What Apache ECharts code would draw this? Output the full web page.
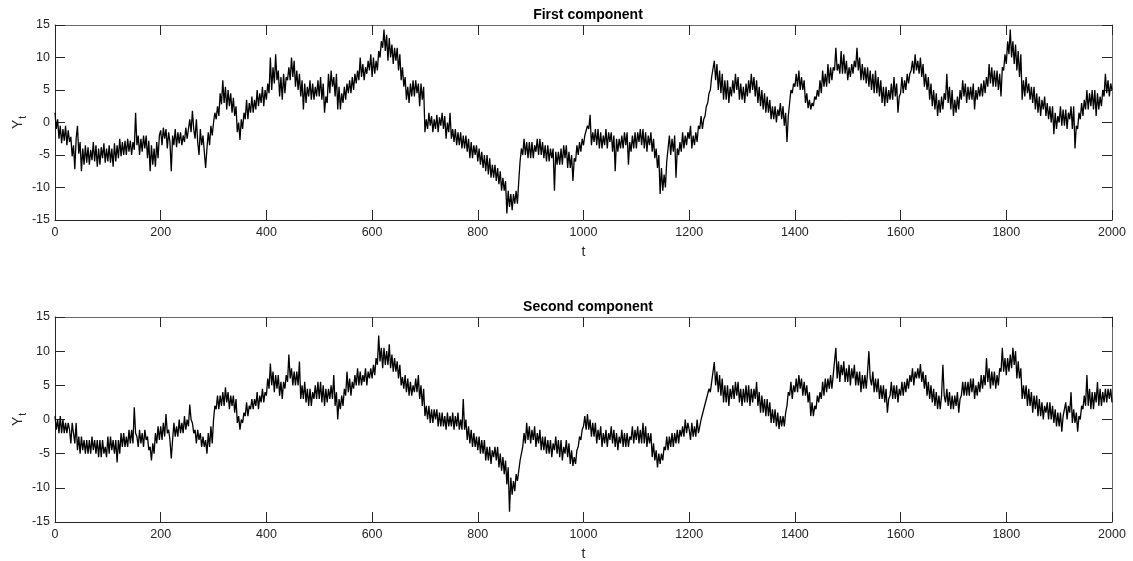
<!DOCTYPE html>
<html>
	<head>
		<meta charset="utf-8" />
		<title>First / Second component</title>
		<style type="text/css">
			html, body {margin:0;padding:0;background:#fff;}
			#chart {width:1133px;height:561px;}
		</style>
	</head>
	<body>
		<div id="chart"></div>
		<script src="https://cdn.jsdelivr.net/npm/echarts@6/dist/echarts.min.js"></script>
		<script type="text/javascript">
			// values every 2.5 steps of t
			const tStep = 2.5;
			const xTicks = [0, 200, 400, 600, 800, 1000, 1200, 1400, 1600, 1800, 2000];
			const yTicks = [-15, -10, -5, 0, 5, 10, 15];
			const titles = ['First component', 'Second component'];

			// first component, two rows = 100 steps of t
			const firstComp = [
				1.5, -1.0, 0.5, -2.5, -0.5, -3.2, -1.0, -2.8, -0.5, -3.5, -1.2, -3.0, -2.2, -5.2, -3.5, -7.2, -2.5, -0.5, -4.8, -3.0,
				-7.5, -4.0, -6.5, -3.5, -6.2, -3.8, -6.5, -4.2, -5.8, -3.0, -6.0, -3.5, -6.8, -4.0, -6.5, -3.8, -5.5, -3.2, -6.2, -4.0,
				-6.0, -3.5, -6.2, -4.0, -6.8, -3.2, -6.0, -3.5, -5.5, -2.5, -5.2, -3.0, -5.0, -2.8, -5.0, -2.5, -4.5, -2.8, -5.0, -3.0,
				-4.2, 1.5, -3.5, -2.0, -5.0, -2.5, -4.5, -2.0, -4.0, -2.0, -5.5, -2.8, -7.5, -3.5, -6.5, -4.0, -6.8, -3.0, -5.5, -2.0,
				-1.2, -3.5, -0.8, -2.5, -1.0, -4.0, -1.5, -3.0, -7.5, -2.0, -3.5, -1.0, -3.8, -1.5, -3.2, -1.5, -3.5, -2.0, -3.0, -0.8,
				-2.5, -1.0, 0.5, -1.5, 1.8, -1.0, -2.5, 0.5, -3.0, -5.0, -1.0, -3.5, -2.0, -4.5, -7.0, -4.0, -1.5, -3.5, -0.5, -2.0,
				0.0, 1.5, 0.5, 2.5, 1.0, 4.5, 2.8, 6.5, 3.0, 5.5, 2.0, 5.0, 2.5, 4.5, 1.5, 3.8, 1.0, 2.5, -1.5, 0.0,
				-2.7, 0.5, -1.0, 1.5, 0.5, 3.5, 0.5, 3.0, 1.5, 4.0, 1.5, 3.5, 2.0, 5.0, 2.5, 4.5, 3.0, 5.5, 2.5, 5.0,
				3.5, 6.0, 4.5, 10.0, 5.0, 8.5, 6.0, 10.5, 6.5, 8.0, 4.0, 7.0, 3.5, 7.5, 4.5, 7.0, 6.5, 8.5, 6.5, 10.0,
				7.0, 9.5, 5.5, 8.0, 5.0, 7.5, 4.0, 6.5, 2.0, 6.0, 3.0, 5.5, 4.0, 6.5, 3.5, 6.0, 3.5, 5.5, 4.0, 6.5,
				4.0, 7.0, 3.5, 6.0, 1.5, 4.0, 3.0, 7.5, 4.5, 8.0, 5.5, 7.0, 4.0, 7.5, 2.0, 5.5, 2.0, 4.5, 3.0, 5.5,
				3.5, 6.0, 4.5, 6.5, 4.5, 7.0, 5.0, 7.5, 6.0, 8.0, 6.5, 10.0, 7.0, 9.0, 6.5, 8.5, 7.5, 9.5, 8.0, 10.5,
				7.0, 10.0, 7.5, 9.5, 8.0, 11.0, 10.0, 12.5, 11.5, 14.3, 11.0, 13.5, 9.5, 13.0, 10.0, 12.0, 9.0, 11.5, 9.5, 11.5,
				8.0, 10.5, 6.5, 8.5, 5.5, 7.0, 3.5, 5.5, 3.0, 6.0, 4.0, 6.5, 4.0, 6.5, 4.5, 6.0, 2.5, 6.0, 3.5, 5.5,
				-1.5, 0.5, -1.0, 1.5, -0.5, 1.0, -1.5, 0.5, -1.0, 1.2, -1.5, 0.8, -0.5, 1.5, -1.0, 1.0, -2.5, 0.0, -1.5, 1.5,
				-2.5, -1.0, -3.0, -1.0, -3.5, -1.5, -3.5, -1.5, -4.0, -2.0, -4.0, -2.0, -4.5, -2.5, -5.5, -3.0, -5.5, -3.5, -5.0, -3.5,
				-6.0, -4.0, -6.5, -4.5, -7.0, -5.0, -7.5, -5.0, -8.0, -5.5, -8.5, -6.5, -8.5, -6.5, -9.0, -7.0, -9.5, -7.5, -10.5, -8.5,
				-10.5, -9.0, -14.0, -10.5, -13.0, -11.0, -13.5, -11.0, -12.5, -10.5, -12.5, -9.0, -6.0, -4.0, -5.0, -2.5, -5.0, -3.0, -5.5, -3.0,
				-5.5, -3.0, -5.5, -3.5, -4.5, -2.5, -5.0, -2.5, -5.0, -3.0, -5.5, -3.5, -6.0, -3.5, -6.0, -4.0, -5.5, -4.0, -10.5, -4.5,
				-6.5, -4.5, -6.5, -4.0, -6.5, -3.5, -5.5, -3.5, -7.0, -4.5, -7.0, -5.0, -9.0, -5.5, -6.0, -3.5, -5.0, -3.0, -4.5, -2.5,
				-3.5, -2.0, -2.0, -0.5, -1.0, 1.2, -3.5, -1.5, -3.0, -1.0, -3.5, -1.0, -4.0, -1.5, -4.0, -2.0, -3.5, -1.0, -4.0, -1.5,
				-3.0, -1.5, -4.5, -2.0, -7.5, -2.5, -4.5, -2.5, -4.0, -2.0, -4.0, -1.5, -3.5, -1.5, -6.5, -3.0, -4.5, -2.0, -4.0, -1.5,
				-4.0, -1.5, -3.0, -1.0, -3.5, -1.0, -4.0, -1.5, -4.5, -2.0, -3.5, -1.5, -4.5, -2.5, -5.5, -4.0, -7.0, -5.0, -11.0, -7.0,
				-10.5, -8.0, -10.0, -6.0, -4.0, -2.0, -5.0, -2.5, -4.5, -2.0, -8.5, -4.0, -5.0, -3.0, -4.5, -1.5, -4.0, -2.0, -3.5, -1.5,
				-2.5, -0.5, -4.0, -2.0, -3.5, -1.5, -3.0, -0.5, -1.0, 1.0, -1.0, 0.5, 1.0, 2.5, 3.0, 4.5, 5.0, 7.0, 7.0, 9.5,
				6.5, 9.0, 5.0, 8.0, 4.5, 7.5, 3.5, 6.5, 3.5, 6.5, 3.0, 5.5, 4.0, 6.5, 4.5, 7.5, 5.0, 7.0, 3.5, 6.0,
				3.5, 5.5, 3.0, 6.0, 4.0, 6.5, 4.5, 7.5, 5.0, 7.0, 4.0, 6.5, 3.0, 5.5, 2.5, 5.0, 2.0, 4.5, 1.5, 4.0,
				1.5, 3.5, 0.5, 2.5, 0.5, 2.5, 0.0, 2.0, 1.0, 3.0, 0.5, 2.5, -0.5, 1.5, -3.0, 1.0, 3.0, 5.0, 4.5, 6.0,
				5.5, 7.5, 5.5, 8.0, 5.0, 7.0, 5.0, 6.5, 3.0, 4.5, 2.2, 3.5, 2.0, 3.0, 2.5, 4.0, 3.5, 5.0, 4.0, 6.5,
				4.5, 8.0, 5.5, 7.5, 5.5, 9.0, 6.0, 8.5, 6.5, 8.5, 8.0, 11.5, 8.0, 9.0, 7.5, 11.0, 7.5, 10.5, 7.5, 9.5,
				6.5, 8.5, 7.0, 9.0, 7.5, 9.5, 8.5, 11.5, 8.0, 10.0, 6.5, 9.0, 6.5, 8.5, 6.0, 8.5, 5.5, 8.0, 5.0, 7.5,
				4.5, 8.0, 4.5, 7.0, 4.0, 6.5, 3.0, 5.5, 2.5, 5.5, 3.0, 5.0, 3.5, 6.0, 3.5, 7.0, 4.0, 6.0, 1.5, 4.0,
				4.5, 7.0, 4.5, 6.5, 5.0, 7.5, 6.0, 7.5, 8.0, 9.5, 7.5, 10.5, 8.0, 9.5, 7.5, 10.0, 7.0, 9.0, 5.5, 7.5,
				5.0, 7.0, 3.5, 6.0, 2.5, 5.0, 2.0, 4.5, 1.0, 3.5, 1.5, 4.0, 2.0, 4.5, 3.5, 7.5, 3.0, 5.5, 2.0, 5.0,
				1.0, 3.5, 1.5, 4.0, 2.0, 5.0, 3.5, 6.5, 4.0, 6.0, 3.0, 5.5, 3.5, 5.5, 3.5, 6.0, 2.0, 5.0, 3.5, 5.5,
				4.0, 6.0, 4.0, 6.5, 4.5, 7.0, 5.5, 9.0, 6.0, 8.5, 5.5, 8.0, 5.5, 8.0, 5.0, 7.5, 4.0, 8.5, 8.0, 10.5,
				9.0, 12.5, 10.5, 14.3, 10.0, 12.5, 9.0, 12.0, 8.0, 11.0, 7.0, 10.5, 3.5, 6.5, 4.0, 7.0, 4.5, 6.0, 3.5, 5.5,
				3.0, 5.5, 2.0, 4.5, 1.5, 4.0, 1.0, 3.5, 2.0, 4.0, 1.0, 3.0, 0.5, 2.5, 0.0, 2.5, -1.8, 1.5, -1.0, 1.0,
				0.0, 2.5, -0.5, 2.0, -0.5, 2.0, -1.0, 1.5, 0.5, 2.5, -1.0, 2.5, -4.0, -0.5, -1.0, 1.5, 0.5, 3.0, 1.0, 3.5,
				2.0, 5.0, 2.0, 4.5, 2.5, 5.0, 2.0, 5.0, 1.0, 4.5, 2.0, 4.0, 2.5, 5.0, 4.0, 7.5, 4.5, 6.5, 4.0, 6.0,
				5.0
			];

			// second component, two rows = 100 steps of t
			const secondComp = [
				0.5, -1.5, 0.0, -2.0, 0.5, -2.0, 0.0, -2.0, -0.5, -2.0, -0.5, -1.5, -3.5, -0.5, -2.0, -3.5, -0.5, -4.5, -2.5, -5.0,
				-2.5, -4.5, -3.0, -5.0, -3.0, -5.0, -3.0, -5.0, -2.5, -4.5, -3.0, -5.0, -3.0, -5.5, -3.0, -5.5, -3.0, -5.0, -4.0, -5.5,
				-2.5, -5.0, -2.5, -4.5, -3.0, -5.0, -3.0, -6.3, -3.0, -5.0, -2.0, -4.0, -2.0, -4.0, -2.5, -4.0, -1.5, -3.5, -1.5, -3.5,
				1.8, -2.0, -2.5, -4.0, -1.5, -3.5, -2.0, -4.0, -1.5, -3.0, -2.5, -4.5, -4.0, -6.0, -3.5, -5.0, -2.0, -3.5, -1.0, -3.0,
				-1.0, -3.0, -0.5, -2.5, 0.8, -2.0, -1.5, -3.0, -5.7, -3.0, -0.5, -2.5, -1.0, -2.5, 0.0, -2.0, -0.5, -2.0, 0.5, -1.5,
				0.0, -1.0, 2.2, 0.0, -0.5, -2.0, -1.5, -3.5, -1.5, -3.0, -2.0, -4.0, -2.5, -4.0, -3.0, -5.0, -2.0, -4.0, -1.0, -3.5,
				0.0, 2.0, 1.5, 3.5, 1.5, 3.5, 2.0, 4.0, 2.0, 4.7, 2.5, 4.0, 1.5, 3.5, 2.0, 3.5, 1.0, 3.0, -0.5, 0.5,
				-1.5, 0.0, -0.5, 1.0, 0.5, 2.5, 0.5, 2.0, 1.5, 3.0, 1.5, 3.0, 2.0, 4.0, 1.5, 3.5, 2.5, 4.5, 2.5, 4.0,
				3.5, 6.0, 4.5, 8.2, 5.0, 7.0, 4.0, 6.5, 4.5, 6.5, 3.5, 5.5, 3.0, 5.5, 4.5, 6.5, 5.5, 9.5, 6.0, 7.5,
				5.0, 7.0, 5.0, 7.0, 5.0, 8.5, 3.0, 5.0, 3.0, 5.5, 2.5, 4.5, 2.0, 4.5, 2.0, 4.0, 3.0, 5.0, 3.0, 5.5,
				3.0, 5.5, 2.5, 5.0, 2.0, 4.5, 2.5, 4.5, 3.0, 5.0, 3.0, 6.5, 2.0, 4.0, 0.0, 3.0, 1.5, 3.5, 2.0, 4.5,
				3.5, 7.0, 4.0, 6.0, 3.5, 5.5, 4.5, 6.5, 5.0, 7.5, 5.0, 7.0, 5.0, 6.5, 5.5, 7.5, 5.0, 7.0, 6.0, 7.5,
				6.0, 8.0, 6.5, 9.0, 8.0, 12.3, 8.5, 10.5, 7.5, 10.5, 8.0, 10.0, 8.0, 11.0, 7.5, 9.5, 7.0, 9.0, 7.0, 8.5,
				6.0, 8.0, 5.0, 6.2, 4.5, 6.5, 4.0, 6.0, 3.5, 5.5, 3.5, 5.0, 4.0, 6.0, 4.0, 6.5, 3.0, 5.0, 2.0, 4.5,
				0.5, 2.0, 0.0, 2.0, -0.5, 1.5, -0.5, 1.5, 0.0, 1.5, -1.0, 1.0, -1.0, 1.0, -1.0, 0.5, -1.5, 1.0, -1.0, 0.5,
				-1.0, 1.0, -1.5, 0.5, -1.0, 1.0, -1.5, 0.0, -1.5, 3.0, -1.5, 0.0, -3.0, -1.0, -3.5, -1.5, -4.0, -2.0, -4.0, -2.5,
				-4.5, -2.5, -5.0, -3.0, -5.0, -3.0, -6.0, -4.0, -6.0, -4.0, -6.5, -4.5, -5.5, -4.0, -6.0, -4.0, -7.0, -5.0, -7.5, -5.5,
				-8.0, -6.0, -9.5, -7.0, -13.5, -8.5, -11.0, -9.0, -10.5, -8.0, -9.0, -7.5, -6.0, -5.0, -4.0, -2.0, -3.5, -0.5, -3.0, -1.0,
				-3.5, -1.5, -3.0, -1.0, -4.0, -2.0, -3.5, -1.5, -4.5, -2.5, -4.5, -2.5, -5.0, -3.0, -5.0, -3.0, -5.5, -3.5, -4.5, -2.5,
				-5.0, -3.0, -5.5, -3.0, -6.0, -4.0, -5.0, -3.0, -5.5, -3.5, -6.5, -4.5, -6.8, -5.5, -6.5, -4.5, -4.0, -2.5, -3.0, -1.5,
				-1.0, 0.5, -1.5, 0.8, -1.5, 0.0, -2.5, -0.5, -2.5, -0.5, -3.5, -1.5, -3.0, -1.0, -4.0, -2.0, -3.5, -1.5, -4.0, -2.0,
				-3.0, -1.0, -3.5, -1.5, -4.0, -2.0, -4.5, -2.5, -3.5, -1.5, -4.0, -2.0, -4.0, -2.0, -4.0, -2.5, -3.0, -1.0, -3.5, -1.5,
				-3.0, -1.0, -3.5, -1.5, -3.5, -0.5, -3.5, -1.0, -4.0, -2.0, -3.5, -2.0, -5.5, -3.5, -6.0, -4.5, -7.0, -5.0, -6.5, -5.0,
				-6.0, -4.0, -4.5, -2.5, -4.5, -2.5, -4.0, -2.0, -4.0, -2.0, -3.5, -1.5, -3.5, -1.5, -2.5, -1.0, -2.5, 0.0, -2.0, -0.5,
				-1.5, -3.0, -0.5, -2.5, -1.0, -2.5, 0.0, -2.0, -1.0, 0.0, 0.0, 1.5, 1.5, 3.0, 3.0, 4.5, 4.0, 5.5, 5.5, 8.4,
				5.0, 7.0, 4.0, 6.5, 3.5, 6.0, 2.5, 5.0, 2.5, 5.0, 2.0, 4.5, 3.0, 5.0, 3.0, 5.5, 3.5, 5.5, 2.5, 4.5,
				2.0, 4.5, 2.5, 5.0, 2.5, 5.0, 2.0, 4.5, 2.5, 4.5, 3.0, 5.5, 2.0, 4.0, 1.0, 3.5, 1.0, 3.0, 0.5, 3.0,
				0.5, 2.5, -0.5, 1.5, -0.5, 1.5, -1.0, 1.0, -1.4, 0.5, -1.0, 0.5, -1.0, 1.0, 2.0, 4.0, 3.5, 5.5, 3.0, 5.0,
				4.0, 6.0, 4.0, 6.5, 4.5, 6.0, 3.5, 5.5, 3.5, 5.0, 2.5, 4.0, 0.5, 2.5, 0.5, 2.0, 1.5, 3.5, 2.5, 4.0,
				3.0, 5.5, 3.5, 6.0, 4.0, 6.0, 4.5, 6.5, 4.5, 6.5, 6.5, 10.5, 6.0, 8.5, 5.5, 8.0, 6.5, 8.5, 5.5, 7.5,
				5.5, 8.0, 5.0, 7.5, 6.0, 8.0, 5.0, 7.0, 5.0, 7.0, 4.0, 6.5, 4.5, 6.5, 4.5, 7.0, 10.0, 6.0, 5.0, 7.0,
				4.0, 6.0, 4.0, 6.0, 3.0, 5.0, 3.0, 5.0, 2.5, 4.5, 1.0, 3.0, 3.5, 5.5, 3.0, 5.0, 3.0, 5.0, 2.5, 4.5,
				3.5, 5.5, 3.5, 5.5, 4.0, 6.0, 4.5, 6.5, 5.5, 7.5, 5.0, 7.0, 6.0, 7.5, 6.0, 8.1, 5.5, 7.0, 4.5, 6.5,
				3.5, 5.5, 3.0, 5.0, 2.5, 4.5, 2.0, 4.0, 1.5, 3.5, 1.5, 3.5, 8.0, 3.5, 2.5, 4.5, 2.0, 4.0, 1.5, 3.5,
				1.5, 3.5, 2.0, 4.0, 1.0, 3.0, 3.5, 5.5, 3.5, 5.5, 3.5, 5.5, 3.5, 6.0, 4.0, 6.0, 3.0, 5.0, 3.5, 5.5,
				4.0, 6.5, 4.5, 6.5, 5.0, 9.0, 5.5, 7.5, 4.5, 7.0, 5.0, 7.0, 4.5, 6.5, 5.0, 7.5, 7.0, 10.5, 7.0, 9.0,
				6.5, 9.0, 7.0, 9.5, 7.5, 10.5, 8.0, 10.0, 6.0, 8.5, 6.0, 7.5, 3.0, 5.0, 3.0, 5.0, 2.0, 4.5, 2.0, 4.0,
				1.0, 3.5, 1.5, 3.5, 0.5, 3.0, 0.5, 2.5, 0.0, 2.0, 1.0, 2.5, 0.0, 2.5, 0.0, 2.0, -0.5, 1.5, -1.0, 1.0,
				-1.0, 1.0, -1.8, 0.5, 0.5, 2.5, 0.0, 2.0, 1.0, 4.0, -0.5, 1.5, -0.5, 1.0, -1.8, 0.5, 0.0, 2.0, 1.5, 3.5,
				2.0, 6.5, 2.0, 4.5, 1.5, 4.0, 1.5, 4.0, 2.5, 5.5, 2.0, 4.5, 2.0, 4.0, 2.5, 4.5, 2.5, 4.5, 3.0, 4.5,
				2.5
			];

			const font = 'Liberation Sans, Arial, Helvetica, sans-serif';
			const ink = '#262626';

			function toPairs(arr) {
				return arr.map((v, i) => [i * tStep, v]);
			}

			//box: bottom/left carry labels, top/right only ticks
			function xAxes(g) {
				const base = {
					gridIndex: g,
					type: 'value',
					min: xTicks[0],
					max: xTicks[xTicks.length - 1],
					interval: xTicks[1] - xTicks[0],
					splitLine: {show: false},
					axisTick: {inside: true, length: 10, lineStyle: {color: ink, width: 1}}
				};
				return [Object.assign({}, base, {
					position: 'bottom',
					axisLine: {onZero: false, lineStyle: {color: ink, width: 1}},
					axisLabel: {margin: 6, color: ink, fontSize: 12.5, fontFamily: font, formatter: v => String(v)},
					name: 't',
					nameLocation: 'middle',
					nameGap: 25,
					nameTextStyle: {color: ink, fontSize: 14, fontFamily: font}
				}), Object.assign({}, base, {
					position: 'top',
					axisLine: {onZero: false, lineStyle: {color: '#6a6a6a', width: 1}},
					axisLabel: {show: false}
				})];
			}

			function yAxes(g) {
				const base = {
					gridIndex: g,
					type: 'value',
					min: yTicks[0],
					max: yTicks[yTicks.length - 1],
					interval: yTicks[1] - yTicks[0],
					splitLine: {show: false},
					axisTick: {inside: true, length: 10, lineStyle: {color: ink, width: 1}}
				};
				return [Object.assign({}, base, {
					position: 'left',
					axisLine: {onZero: false, lineStyle: {color: ink, width: 1}},
					axisLabel: {margin: 5, color: ink, fontSize: 12.5, fontFamily: font, formatter: v => String(v)},
					name: 'Y{s|t}',
					nameLocation: 'middle',
					nameRotate: 90,
					nameGap: 27,
					nameMoveOverlap: false,
					nameTextStyle: {
						color: ink, fontSize: 14, fontFamily: font,
						rich: {s: {fontSize: 10, fontFamily: font, color: ink, verticalAlign: 'bottom', padding: [9, 0, 0, 1]}}
					}
				}), Object.assign({}, base, {
					position: 'right',
					axisLine: {onZero: false, lineStyle: {color: '#6a6a6a', width: 1}},
					axisLabel: {show: false}
				})];
			}

			const chart = echarts.init(document.getElementById('chart'));
			const opt = {
				animation: false,
				backgroundColor: '#fff',
				title: titles.map((t, i) => ({
					text: t,
					left: 583,
					textAlign: 'center',
					top: i === 0 ? 3 : 295,
					textStyle: {color: '#000', fontSize: 14, fontWeight: 'bold', fontFamily: font}
				})),
				grid: [
					{left: 55, right: 21, top: 25, height: 195, outerBoundsMode: 'none'},
					{left: 55, right: 21, top: 317, height: 205, outerBoundsMode: 'none'}
				],
				xAxis: xAxes(0).concat(xAxes(1)),
				yAxis: yAxes(0).concat(yAxes(1)),
				series: [{
					type: 'line',
					xAxisIndex: 0,
					yAxisIndex: 0,
					data: toPairs(firstComp),
					showSymbol: false,
					lineStyle: {color: '#000', width: 1.3},
					silent: true
				}, {
					type: 'line',
					xAxisIndex: 2,
					yAxisIndex: 2,
					data: toPairs(secondComp),
					showSymbol: false,
					lineStyle: {color: '#000', width: 1.3},
					silent: true
				}]
			};
			chart.setOption(opt);
		</script>
	</body>
</html>
